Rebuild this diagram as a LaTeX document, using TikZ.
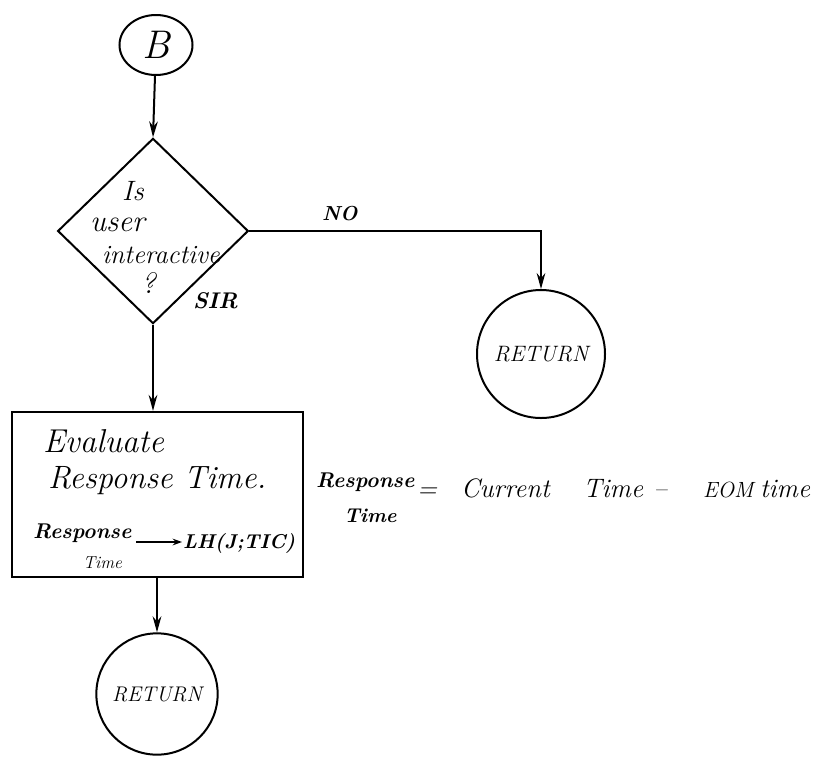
\documentclass[tikz,border=0pt]{standalone}
\usepackage{fontspec}
\usetikzlibrary{arrows.meta,shapes.geometric}
\begin{document}
\begin{tikzpicture}[x=0.75pt,y=-0.75pt,
  line width=1.5pt,
  flow/.style={-{Stealth[length=12pt,width=6.5pt]}},
  conn/.style={draw,circle,line width=1.5pt,inner sep=0pt},
  hand/.style={font=\itshape\fontsize{20}{22}\selectfont,inner sep=0pt,anchor=base west},
  handb/.style={font=\bfseries\itshape\fontsize{16}{18}\selectfont,inner sep=0pt,anchor=base west}]
\useasboundingbox (0,0) rectangle (817,764);
% start connector
\node[conn,ellipse,minimum width=54.75pt,minimum height=45pt] (B) at (156,45) {\fontsize{30}{32}\selectfont\itshape B};
% decision
\node[draw,diamond,aspect=1.03,minimum width=143pt,minimum height=139pt,line width=1.5pt] (D) at (153,231) {};
\node[hand,font=\itshape\fontsize{21}{22}\selectfont] (t1) at (121,200) {Is};
\node[hand,font=\itshape\fontsize{23}{25}\selectfont] (t2) at (89,231) {user};
\node[hand,font=\itshape\fontsize{19.8}{22}\selectfont] (t3) at (101,263) {interactive};
\node[hand,font=\itshape\fontsize{22}{24}\selectfont] (t4) at (140,293) {?};
\node[handb,font=\bfseries\itshape\fontsize{15.2}{17}\selectfont] (no) at (321,220) {NO};
\node[handb,font=\bfseries\itshape\fontsize{17}{19}\selectfont] (sir) at (192,308) {SIR};
% return right
\node[conn,minimum size=96pt] (R1) at (541,354) {\itshape\fontsize{16.7}{19}\selectfont RETURN};
% process box
\node[draw,minimum width=218pt,minimum height=124pt,line width=1.4pt] (P) at (157.5,494.5) {};
\node[hand,font=\itshape\fontsize{24.8}{26}\selectfont] (e1) at (42,452) {Evaluate};
\node[hand,font=\itshape\fontsize{24.2}{26}\selectfont] (e2) at (47,488) {Response Time.};
\node[handb,font=\bfseries\itshape\fontsize{16}{18}\selectfont] (e3) at (32,538) {Response};
\node[hand,font=\itshape\fontsize{13}{15}\selectfont] (e4) at (82,568) {Time};
\node[handb,font=\bfseries\itshape\fontsize{15}{17}\selectfont] (lh) at (182,548) {LH(J;TIC)};
\coordinate (a1) at (136,542);
\draw[-{Stealth[length=7pt,width=5pt]},line width=1.8pt] (a1) -- (lh.west |- a1);
% formula beside
\node[handb,font=\bfseries\itshape\fontsize{16}{18}\selectfont] (f1) at (315,487) {Response};
\node[handb,font=\bfseries\itshape\fontsize{15}{17}\selectfont] (f2) at (343,522) {Time};
\node[hand] (f3) at (416,497) {=\hspace{18pt}Current\hspace{25pt}Time\hspace{8pt}--\hspace{27pt}{\fontsize{16.5}{18}\selectfont EOM}\hspace{5pt}time};
% return bottom
\node[conn,minimum size=91pt] (R2) at (157,694) {\itshape\fontsize{15.9}{18}\selectfont RETURN};
% connectors
\draw[flow] (B) -- (D.north);
\draw[flow] (D.east) -| (R1.north);
\draw[flow] (D.south) -- (D.south |- P.north);
\draw[flow] (P.south -| R2.north) -- (R2.north);
\end{tikzpicture}
\end{document}
